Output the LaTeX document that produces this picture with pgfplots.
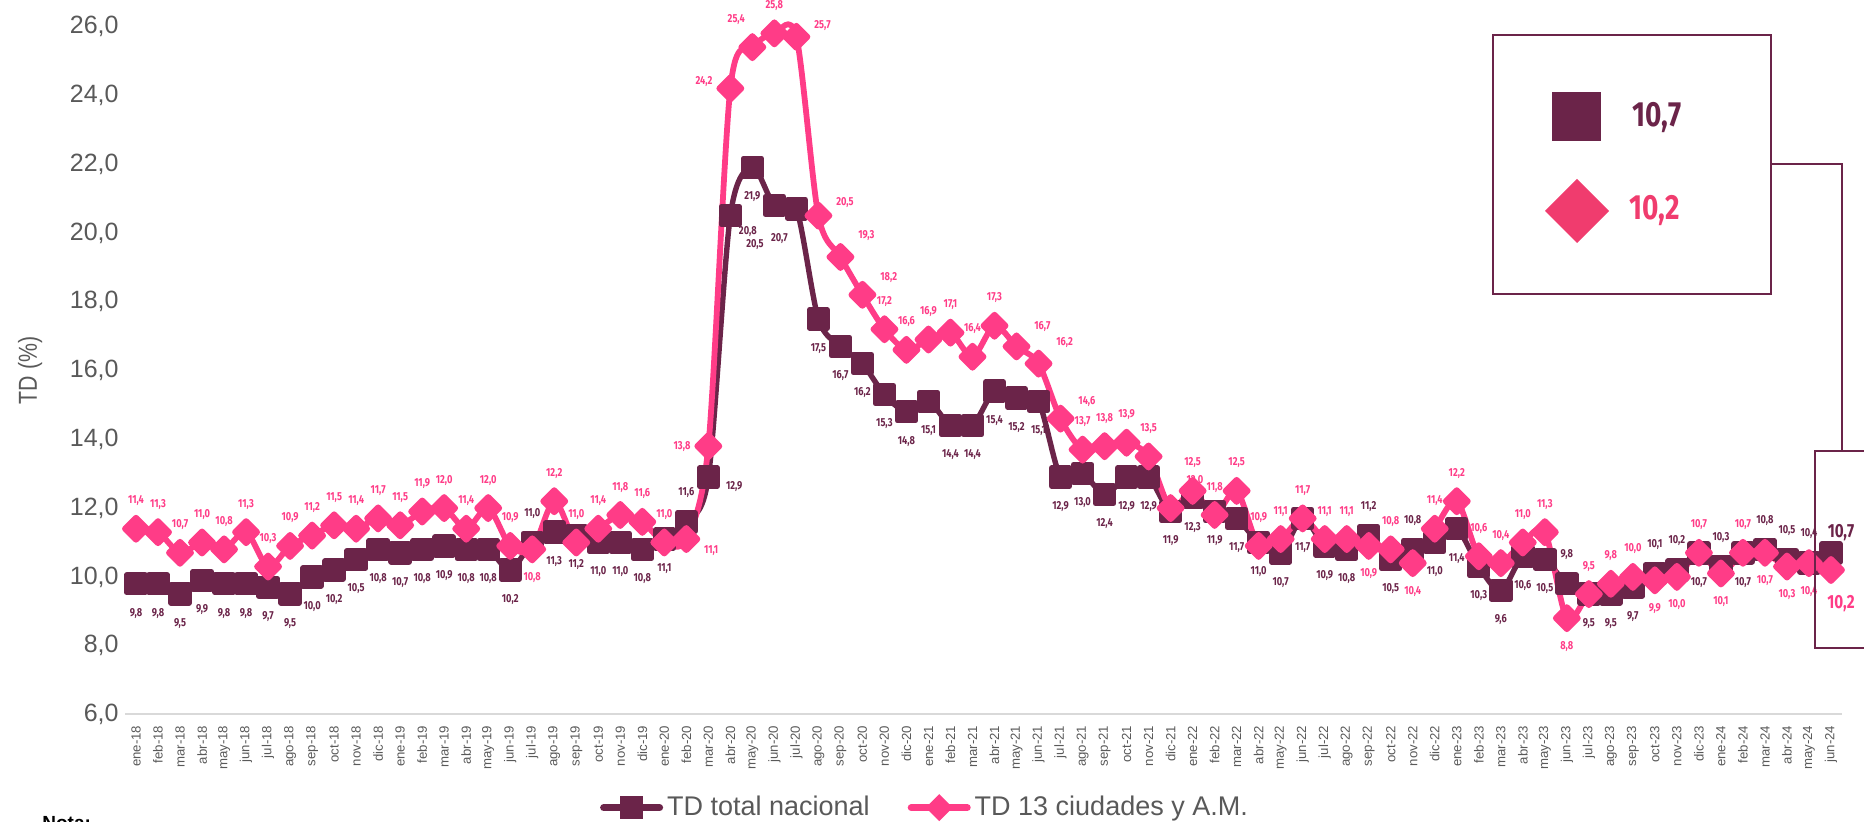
\documentclass[border=0pt]{standalone}
\usepackage{fontspec}
\setmainfont{Liberation Sans}
\newfontfamily\lblfont[FakeStretch=0.8]{Fira Sans}
\newfontfamily\narrowfont[FakeStretch=0.82]{Liberation Sans}
\usepackage{pgfplots}
\pgfplotsset{compat=1.18}
\definecolor{cdark}{RGB}{107,36,73}
\definecolor{cpink}{RGB}{255,60,135}
\definecolor{cpinkb}{RGB}{240,60,110}
\definecolor{tickgray}{RGB}{89,89,89}
\definecolor{axisgray}{RGB}{217,217,217}

\begin{document}
\begin{tikzpicture}
\begin{axis}[
  at={(62.5pt,53.75pt)}, anchor=south west,
  width=858.5pt, height=344pt, scale only axis,
  xmin=-0.5, xmax=77.5, ymin=6, ymax=26,
  clip=false,
  axis x line*=bottom, axis y line*=left,
  x axis line style={draw=axisgray, line width=1pt, -},
  y axis line style={draw=none},
  major tick length=0pt, tick style={draw=none},
  xtick={0,...,77},
  xticklabels={ene-18,feb-18,mar-18,abr-18,may-18,jun-18,jul-18,ago-18,sep-18,oct-18,nov-18,dic-18,
    ene-19,feb-19,mar-19,abr-19,may-19,jun-19,jul-19,ago-19,sep-19,oct-19,nov-19,dic-19,
    ene-20,feb-20,mar-20,abr-20,may-20,jun-20,jul-20,ago-20,sep-20,oct-20,nov-20,dic-20,
    ene-21,feb-21,mar-21,abr-21,may-21,jun-21,jul-21,ago-21,sep-21,oct-21,nov-21,dic-21,
    ene-22,feb-22,mar-22,abr-22,may-22,jun-22,jul-22,ago-22,sep-22,oct-22,nov-22,dic-22,
    ene-23,feb-23,mar-23,abr-23,may-23,jun-23,jul-23,ago-23,sep-23,oct-23,nov-23,dic-23,
    ene-24,feb-24,mar-24,abr-24,may-24,jun-24},
  xticklabel style={rotate=90, anchor=east, inner sep=0pt, font=\fontsize{6.6}{7}\selectfont, text=tickgray},
  xticklabel shift=5.5pt,
  ytick={6,8,...,26},
  yticklabel style={inner sep=0pt, font=\fontsize{12.5}{13}\selectfont, text=tickgray,
    /pgf/number format/fixed, /pgf/number format/fixed zerofill,
    /pgf/number format/precision=1, /pgf/number format/use comma,
    /pgf/number format/assume math mode=true},
  yticklabel shift=3pt,
  ylabel={TD (\%)},
  every axis y label/.style={at={(axis description cs:-0.0553,0.5)}, rotate=90, anchor=center,
    font=\narrowfont\fontsize{13}{13}\selectfont, text=tickgray},
  legend style={at={(axis description cs:0.4665,-0.1354)}, anchor=center, draw=none, fill=none,
    font=\fontsize{13.5}{14}\selectfont, text=tickgray,
    /tikz/every even column/.append style={column sep=17pt}},
  legend columns=2,
  legend image code/.code={\draw[mark repeat=2,mark phase=2,#1] plot coordinates {(0pt,0pt) (14pt,0pt) (28pt,0pt)};},
]
\addplot[forget plot, color=cdark, line width=2.7pt, line join=round, line cap=round, smooth, tension=0.5,
  mark=square*, mark size=4.5pt, mark options={draw=none, fill=cdark},
  nodes near coords, point meta=explicit symbolic,
  visualization depends on={value \thisrow{a} \as \myanchor},
  nodes near coords style={font=\lblfont\bfseries\fontsize{5.8}{6}\selectfont, text=cdark, inner xsep=7.5pt, inner ysep=10.8pt},
  every node near coord/.append style={anchor=\myanchor}]
  table[x=x, y=y, meta=l] {
x y a l
0 9.8 90 9,8
1 9.8 90 9,8
2 9.5 90 9,5
3 9.9 90 9,9
4 9.8 90 9,8
5 9.8 90 9,8
6 9.7 90 9,7
7 9.5 90 9,5
8 10.0 90 10,0
9 10.2 90 10,2
10 10.5 90 10,5
11 10.8 90 10,8
12 10.7 90 10,7
13 10.8 90 10,8
14 10.9 90 10,9
15 10.8 90 10,8
16 10.8 90 10,8
17 10.2 90 10,2
18 11.0 270 11,0
19 11.3 90 11,3
20 11.2 90 11,2
21 11.0 90 11,0
22 11.0 90 11,0
23 10.8 90 10,8
24 11.1 90 11,1
25 11.6 270 11,6
26 12.9 160 12,9
27 20.5 130 20,5
28 21.9 90 21,9
29 20.8 45 20,8
30 20.7 60 20,7
31 17.5 90 17,5
32 16.7 90 16,7
33 16.2 90 16,2
34 15.3 90 15,3
35 14.8 90 14,8
36 15.1 90 15,1
37 14.4 90 14,4
38 14.4 90 14,4
39 15.4 90 15,4
40 15.2 90 15,2
41 15.1 90 15,1
42 12.9 90 12,9
43 13.0 90 13,0
44 12.4 90 12,4
45 12.9 90 12,9
46 12.9 90 12,9
47 11.9 90 11,9
48 12.3 90 12,3
49 11.9 90 11,9
50 11.7 90 11,7
51 11.0 90 11,0
52 10.7 90 10,7
53 11.7 90 11,7
54 10.9 90 10,9
55 10.8 90 10,8
56 11.2 270 11,2
57 10.5 90 10,5
58 10.8 270 10,8
59 11.0 90 11,0
60 11.4 90 11,4
61 10.3 90 10,3
62 9.6 90 9,6
63 10.6 90 10,6
64 10.5 90 10,5
65 9.8 270 9,8
66 9.5 90 9,5
67 9.5 90 9,5
68 9.7 90 9,7
69 10.1 270 10,1
70 10.2 270 10,2
71 10.7 90 10,7
72 10.3 270 10,3
73 10.7 90 10,7
74 10.8 270 10,8
75 10.5 270 10,5
76 10.4 270 10,4
77 10.7 90 {}
};
\addplot[forget plot, color=cpink, line width=2.9pt, line join=round, line cap=round, smooth, tension=0.5,
  mark=square*, mark size=3.9pt, mark options={draw=none, fill=cpink, rotate=45},
  nodes near coords, point meta=explicit symbolic,
  visualization depends on={value \thisrow{a} \as \myanchor},
  nodes near coords style={font=\lblfont\bfseries\fontsize{5.8}{6}\selectfont, text=cpink, inner xsep=7.5pt, inner ysep=10pt},
  every node near coord/.append style={anchor=\myanchor}]
  table[x=x, y=y, meta=l] {
x y a l
0 11.4 270 11,4
1 11.3 270 11,3
2 10.7 270 10,7
3 11.0 270 11,0
4 10.8 270 10,8
5 11.3 270 11,3
6 10.3 270 10,3
7 10.9 270 10,9
8 11.2 270 11,2
9 11.5 270 11,5
10 11.4 270 11,4
11 11.7 270 11,7
12 11.5 270 11,5
13 11.9 270 11,9
14 12.0 270 12,0
15 11.4 270 11,4
16 12.0 270 12,0
17 10.9 270 10,9
18 10.8 90 10,8
19 12.2 270 12,2
20 11.0 270 11,0
21 11.4 270 11,4
22 11.8 270 11,8
23 11.6 270 11,6
24 11.0 270 11,0
25 11.1 155 11,1
26 13.8 0 13,8
27 24.2 345 24,2
28 25.4 300 25,4
29 25.8 270 25,8
30 25.7 203 25,7
31 20.5 207 20,5
32 19.3 220 19,3
33 18.2 213 18,2
34 17.2 270 17,2
35 16.6 270 16,6
36 16.9 270 16,9
37 17.1 270 17,1
38 16.4 270 16,4
39 17.3 270 17,3
40 16.7 218 16,7
41 16.2 219 16,2
42 14.6 213 14,6
43 13.7 270 13,7
44 13.8 270 13,8
45 13.9 270 13,9
46 13.5 270 13,5
47 12.0 229 12,0
48 12.5 270 12,5
49 11.8 270 11,8
50 12.5 270 12,5
51 10.9 270 10,9
52 11.1 270 11,1
53 11.7 270 11,7
54 11.1 270 11,1
55 11.1 270 11,1
56 10.9 90 10,9
57 10.8 270 10,8
58 10.4 90 10,4
59 11.4 270 11,4
60 12.2 270 12,2
61 10.6 270 10,6
62 10.4 270 10,4
63 11.0 270 11,0
64 11.3 270 11,3
65 8.8 90 8,8
66 9.5 270 9,5
67 9.8 270 9,8
68 10.0 270 10,0
69 9.9 90 9,9
70 10.0 90 10,0
71 10.7 270 10,7
72 10.1 90 10,1
73 10.7 270 10,7
74 10.7 90 10,7
75 10.3 90 10,3
76 10.4 90 10,4
77 10.2 90 {}
};
\addlegendimage{color=cdark, line width=3.5pt, line cap=round, mark=square*, mark size=4pt, mark options={draw=none, fill=cdark}}
\addlegendentry{TD total nacional}
\addlegendimage{color=cpink, line width=3.5pt, line cap=round, mark=square*, mark size=3pt, mark options={draw=none, fill=cpink, rotate=45}}
\addlegendentry{TD 13 ciudades y A.M.}
\node[font=\lblfont\bfseries\fontsize{9.5}{10}\selectfont, text=cdark, xshift=5pt, yshift=10pt] at (axis cs:77,10.7) {10,7};
\node[font=\lblfont\bfseries\fontsize{9.5}{10}\selectfont, text=cpink, xshift=5pt, yshift=-17pt] at (axis cs:77,10.2) {10,2};
\end{axis}
% annotation box
\draw[cdark, line width=0.8pt] (746.5pt,264pt) rectangle (885.5pt,393.5pt);
\fill[cdark] (776pt,340.5pt) rectangle (800.5pt,365pt);
\node[font=\lblfont\bfseries\fontsize{17.5}{18}\selectfont, text=cdark] at (828.5pt,352pt) {10,7};
\fill[cpinkb] (788.5pt,321.5pt) -- (804.5pt,305.5pt) -- (788.5pt,289.5pt) -- (772.5pt,305.5pt) -- cycle;
\node[font=\lblfont\bfseries\fontsize{17.5}{18}\selectfont, text=cpinkb] at (827.5pt,305.5pt) {10,2};
\draw[cdark, line width=0.8pt] (885.5pt,329pt) -- (921pt,329pt) -- (921pt,185.5pt);
\draw[cdark, line width=0.8pt] (945pt,185.5pt) -- (907.5pt,185.5pt) -- (907.5pt,87pt) -- (945pt,87pt);
\node[anchor=base west, inner sep=0pt, font=\bfseries\fontsize{9.5}{10}\selectfont, text=black] at (21pt,-4pt) {Nota:};
\pgfresetboundingbox
\useasboundingbox (0pt,0pt) rectangle (932pt,411pt);
\end{tikzpicture}
\end{document}
